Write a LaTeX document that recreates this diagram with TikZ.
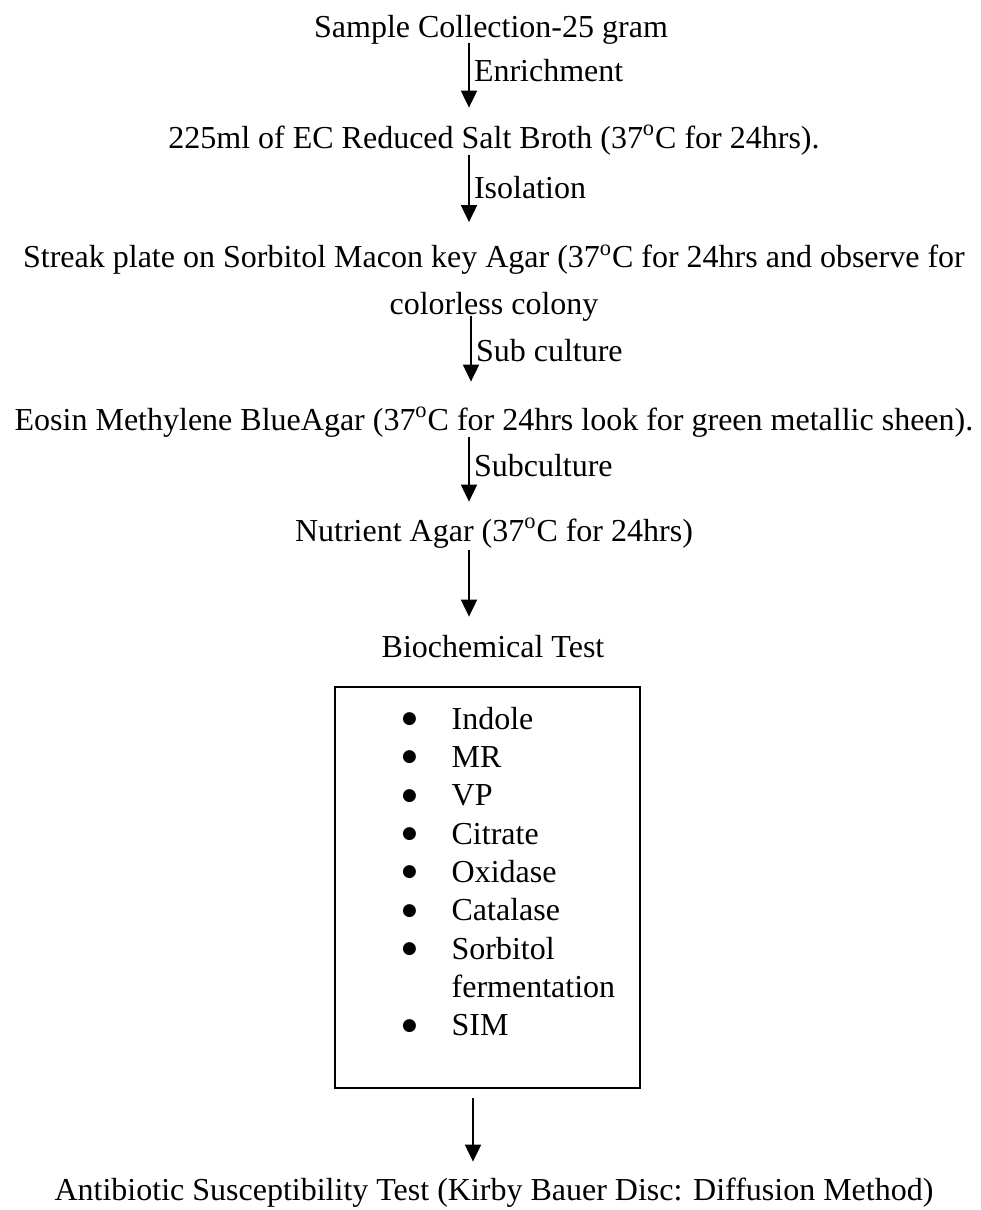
\documentclass[tikz,border=0pt]{standalone}
\usepackage{fontspec}
\setmainfont{Liberation Serif}
\newfontfamily\dotfont{DejaVu Sans}
\usetikzlibrary{arrows.meta,positioning}
\newcommand{\blt}{\makebox[21pt][l]{\makebox[0pt]{\raisebox{2.8pt}{\dotfont\fontsize{8.5pt}{9pt}\selectfont ●}}}}

\begin{document}
\begin{tikzpicture}[x=0.5pt, y=-0.5pt,
		txt/.style={inner sep=0pt, font=\fontsize{16pt}{19pt}\selectfont},
		stage/.style={txt, text height=11pt, text depth=1pt},
		note/.style={txt, right, inner xsep=2pt},
		flow/.style={-{Triangle[width=8pt,length=8.5pt]}, line width=1pt, shorten <=2.5pt, shorten >=9pt},
		testbox/.style={draw, line width=0.75pt, minimum width=152.5pt, minimum height=200.5pt, inner sep=0pt}]
		\useasboundingbox (0,0) rectangle (980,1210);
		\coordinate (axis) at (469,0);

		\node[stage] (sample) at (491,27) {Sample Collection-25 gram};
		\node[stage] (broth) at (494,138) {225ml of EC Reduced Salt Broth (37\textsuperscript{o}C for 24hrs).};
		\node[txt, align=center, font=\fontsize{16pt}{23.5pt}\selectfont] (streak) at (494,283) {Streak plate on Sorbitol Macon key Agar (37\textsuperscript{o}C for 24hrs and observe for\\ colorless colony};
		\node[stage] (eosin) at (494,420) {Eosin Methylene BlueAgar (37\textsuperscript{o}C for 24hrs look for green metallic sheen).};
		\node[stage] (nutrient) at (494,531) {Nutrient Agar (37\textsuperscript{o}C for 24hrs)};
		\node[stage] (biochem) at (493,647) {Biochemical Test};
		\node[testbox] (tests) at (487.5,887.5) {};
		\node[txt, anchor=base west, font=\fontsize{16pt}{19.15pt}\selectfont] (list) at ([shift={(75,43)}]tests.north west) {%
			\begin{tabular}[t]{@{}l@{}l@{}}
				\blt & Indole\\
				\blt & MR\\
				\blt & VP\\
				\blt & Citrate\\
				\blt & Oxidase\\
				\blt & Catalase\\
				\blt & Sorbitol\\
				& fermentation\\
				\blt & SIM
			\end{tabular}};
		\node[stage] (abst) at (494,1190) {Antibiotic Susceptibility Test (Kirby Bauer Disc: Diffusion Method)};

		\draw[flow, shorten <=2pt] (sample.south -| axis) -- node[note, pos=0.36] {Enrichment} (broth.north -| axis);
		\draw[flow, shorten >=11pt] (broth.south -| axis) -- node[note, pos=0.4] {Isolation} (streak.north -| axis);
		\draw[flow, shorten <=-3pt, shorten >=13pt] ([xshift=1pt]streak.south -| axis) -- node[note, pos=0.34] {Sub culture} ([xshift=1pt]eosin.north -| axis);
		\draw[flow, shorten >=8.5pt] (eosin.south -| axis) -- node[note, pos=0.38] {Subculture} (nutrient.north -| axis);
		\draw[flow, shorten <=3.5pt] (nutrient.south -| axis) -- (biochem.north -| axis);
		\draw[flow, shorten <=4.5pt, shorten >=8pt] ([xshift=2pt]tests.south -| axis) -- ([xshift=2pt]abst.north -| axis);

	\end{tikzpicture}
\end{document}
